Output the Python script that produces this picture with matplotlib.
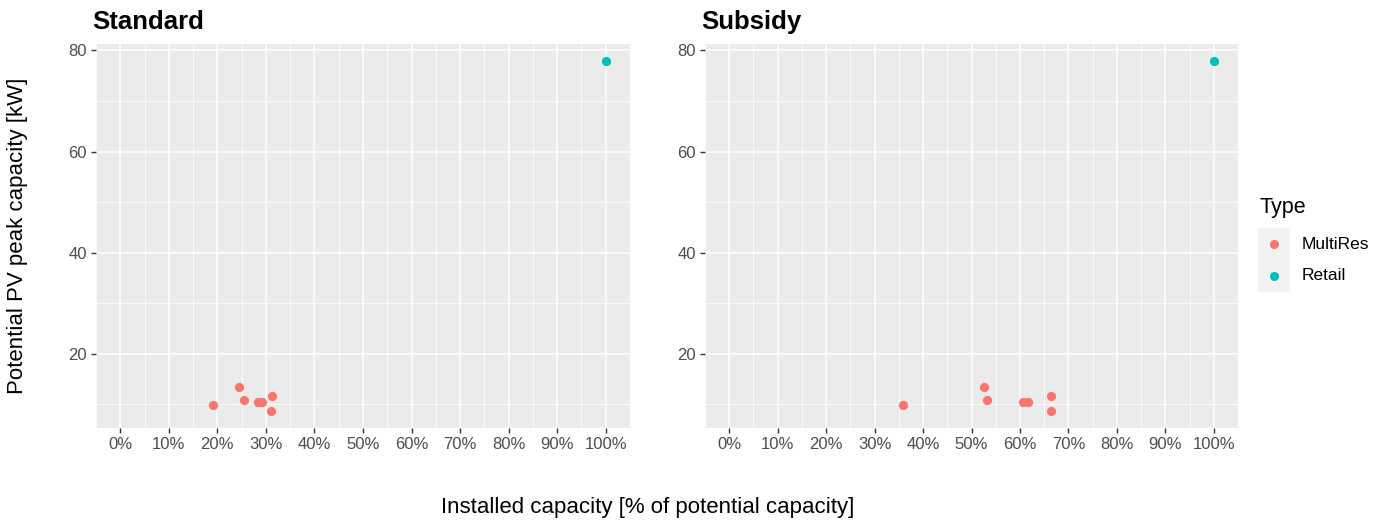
import numpy as np
import matplotlib.pyplot as plt
from matplotlib.patches import Rectangle
from matplotlib.lines import Line2D
from matplotlib.ticker import FuncFormatter, MultipleLocator

plt.rcParams['font.family'] = ['Liberation Sans', 'DejaVu Sans']

# data (x as fraction of potential capacity, y in kW)
std_multires_x = [0.19, 0.245, 0.255, 0.284, 0.292, 0.313, 0.311]
std_multires_y = [9.8, 13.5, 10.8, 10.5, 10.5, 11.6, 8.8]
sub_multires_x = [0.358, 0.526, 0.533, 0.606, 0.617, 0.665, 0.665]
sub_multires_y = [9.8, 13.5, 10.8, 10.5, 10.5, 11.6, 8.8]
retail_x = [1.0]
retail_y = [77.8]

panels = ['Standard', 'Subsidy']
colors = {'MultiRes': '#F8766D', 'Retail': '#00BFC4'}

fig = plt.figure(figsize=(13.87, 5.23), dpi=100)
W, H = 1387, 523
ax_left = fig.add_axes([96 / W, 1 - 428 / H, 534 / W, 384 / H])
ax_right = fig.add_axes([705 / W, 1 - 428 / H, 533 / W, 384 / H])

data = [(std_multires_x, std_multires_y), (sub_multires_x, sub_multires_y)]
for ax, title, (mx, my) in zip([ax_left, ax_right], panels, data):
    ax.set_facecolor('#EBEBEB')
    ax.scatter(mx, my, s=44, color=colors['MultiRes'], zorder=3, linewidths=0)
    ax.scatter(retail_x, retail_y, s=44, color=colors['Retail'], zorder=3, linewidths=0)
    ax.set_xlim(-0.05, 1.05)
    ax.set_ylim(5.35, 81.25)
    ax.xaxis.set_major_locator(MultipleLocator(0.1))
    ax.xaxis.set_minor_locator(MultipleLocator(0.05))
    ax.yaxis.set_major_locator(MultipleLocator(20))
    ax.yaxis.set_minor_locator(MultipleLocator(10))
    ax.xaxis.set_major_formatter(FuncFormatter(lambda v, p: f'{v * 100:.0f}%'))
    ax.grid(which='major', color='white', linewidth=1.1)
    ax.grid(which='minor', color='white', linewidth=0.55)
    ax.set_axisbelow(True)
    for s in ax.spines.values():
        s.set_visible(False)
    ax.tick_params(which='major', colors='#333333', labelcolor='#4D4D4D',
                   labelsize=12, length=3.5, width=1, pad=3)
    ax.tick_params(which='minor', length=0)
    ax.set_title(title, loc='left', fontsize=18.5, fontweight='bold', pad=11, x=-0.008)

fig.text(18 / W, 1 - 236 / H, 'Potential PV peak capacity [kW]', rotation=90,
         ha='center', va='center', fontsize=16)
fig.text(648 / W, 1 - 507 / H, 'Installed capacity [% of potential capacity]',
         ha='center', va='center', fontsize=16)

# legend
fig.text(1259 / W, 1 - 207 / H, 'Type', ha='left', va='center', fontsize=15.5)
for i, (lab, col) in enumerate(colors.items()):
    yc = 1 - (244 + 32 * i) / H
    fig.patches.append(Rectangle((1258 / W, yc - 16 / H), 32 / W, 32 / H,
                                 transform=fig.transFigure, facecolor='#F2F2F2',
                                 edgecolor='none'))
    fig.lines.append(Line2D([1274 / W], [yc], marker='o', markersize=6.5,
                            color=col, markeredgewidth=0, transform=fig.transFigure))
    fig.text(1302 / W, yc, lab, ha='left', va='center', fontsize=12.5)

fig.savefig('out.png', dpi=100)
